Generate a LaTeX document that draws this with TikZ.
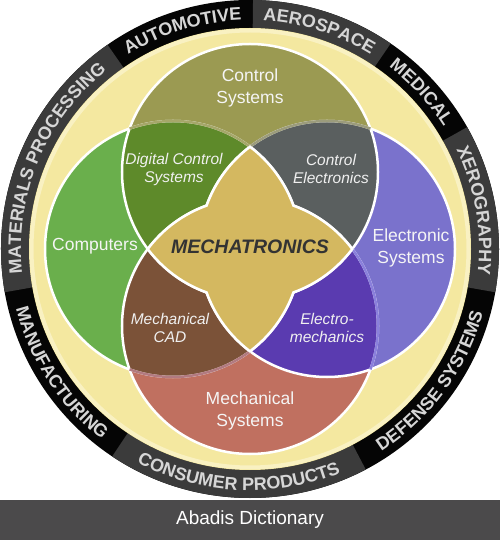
\documentclass[tikz,border=0pt]{standalone}
\usepackage{fontspec}
\setmainfont{Liberation Sans}
\usetikzlibrary{decorations.text}
\definecolor{ringblack}{HTML}{050505}
\definecolor{ringgray}{HTML}{3B3B3B}
\definecolor{ringtext}{HTML}{D6D6D6}
\definecolor{bgyellow}{HTML}{F4E8A0}
\definecolor{bgrim}{HTML}{F9F1C2}
\definecolor{ctrlsys}{HTML}{9B9A52}
\definecolor{computers}{HTML}{6AAF4C}
\definecolor{elecsys}{HTML}{7A72CC}
\definecolor{mechsys}{HTML}{C07060}
\definecolor{digctrl}{HTML}{5E8A2A}
\definecolor{ctrlelec}{HTML}{5A5F5F}
\definecolor{mechcad}{HTML}{7B5238}
\definecolor{electromech}{HTML}{5A3BB0}
\definecolor{mechatr}{HTML}{D4B860}
\definecolor{barcol}{HTML}{4B4A4B}
\definecolor{lineTL}{HTML}{A6A76A}
\definecolor{lineTR}{HTML}{9C9C7C}
\definecolor{lineBL}{HTML}{B27A80}
\definecolor{lineBR}{HTML}{8A80DC}
\newcommand\ringfmt{\bfseries\fontsize{18}{18}\selectfont}
\begin{document}
\begin{tikzpicture}[x=1pt,y=1pt,
  circlabel/.style={text=white!96!black, font=\fontsize{17.5}{22}\selectfont, align=center, inner sep=0pt},
  petallabel/.style={text=white!94!black, font=\itshape\fontsize{15.5}{18}\selectfont, align=center, inner sep=0pt},
  ringlabel/.style={decorate, decoration={text along path, text align=center, text color=ringtext}},
  border/.style={draw=white, line width=2.5pt},
  seam/.style={line width=2.5pt}]
\useasboundingbox (-250,-291) rectangle (250,249);
\fill[white] (-250,-291) rectangle (250,249);
% outer ring
\fill[ringblack] (0,0) circle[radius=249];
\fill[ringgray] (0,0) -- (55.6:249) arc[start angle=55.6, end angle=89.3, radius=249] -- cycle;
\fill[ringgray] (0,0) -- (-10:249) arc[start angle=-10, end angle=29.3, radius=249] -- cycle;
\fill[ringgray] (0,0) -- (236.4:249) arc[start angle=236.4, end angle=297.7, radius=249] -- cycle;
\fill[ringgray] (0,0) -- (124.9:249) arc[start angle=124.9, end angle=190, radius=249] -- cycle;
\fill[bgyellow] (0,0) circle[radius=221];
\draw[bgrim, line width=4pt] (0,0) circle[radius=218.5];
% ring labels (top: clockwise, bottom: counter-clockwise)
\begin{scope}
\ringfmt
\path[ringlabel, decoration={text={MATERIALS PROCESSING}}] (190:229) arc[start angle=190, end angle=124.9, radius=229];
\path[ringlabel, decoration={text={AUTOMOTIVE}}] (124.9:229) arc[start angle=124.9, end angle=89.3, radius=229];
\path[ringlabel, decoration={text={AEROSPACE}}] (89.3:229) arc[start angle=89.3, end angle=55.6, radius=229];
\path[ringlabel, decoration={text={MEDICAL}}] (55.6:229) arc[start angle=55.6, end angle=29.3, radius=229];
\path[ringlabel, decoration={text={XEROGRAPHY}}] (29.3:229) arc[start angle=29.3, end angle=-10, radius=229];
\path[ringlabel, decoration={text={DEFENSE SYSTEMS}}] (-62.3:241.5) arc[start angle=-62.3, end angle=-10, radius=241.5];
\path[ringlabel, decoration={text={CONSUMER PRODUCTS}}] (236.4:241.5) arc[start angle=236.4, end angle=297.7, radius=241.5];
\path[ringlabel, decoration={text={MANUFACTURING}}] (190:241.5) arc[start angle=190, end angle=236.4, radius=241.5];
\end{scope}
% circles
\fill[computers] (-77,0) circle[radius=128];
\fill[elecsys] (77,0) circle[radius=128];
\fill[ctrlsys] (0,77) circle[radius=128];
\fill[mechsys] (0,-77) circle[radius=128];
% pairwise overlaps
\begin{scope}\clip (0,77) circle[radius=128]; \fill[digctrl] (-77,0) circle[radius=128]; \end{scope}
\begin{scope}\clip (0,77) circle[radius=128]; \fill[ctrlelec] (77,0) circle[radius=128]; \end{scope}
\begin{scope}\clip (0,-77) circle[radius=128]; \fill[mechcad] (-77,0) circle[radius=128]; \end{scope}
\begin{scope}\clip (0,-77) circle[radius=128]; \fill[electromech] (77,0) circle[radius=128]; \end{scope}
% borders
\draw[border] (-77,0) circle[radius=128];
\draw[border] (77,0) circle[radius=128];
\draw[border] (0,77) circle[radius=128];
\draw[border] (0,-77) circle[radius=128];
% soft seams
\draw[seam, lineTL] ([shift={(-77,0)}]109.82:128) arc[start angle=109.82, end angle=53.02, radius=128];
\draw[seam, lineTR] ([shift={(77,0)}]70.18:128) arc[start angle=70.18, end angle=126.98, radius=128];
\draw[seam, lineBL] ([shift={(-77,0)}]-109.82:128) arc[start angle=-109.82, end angle=-53.02, radius=128];
\draw[seam, lineBR] ([shift={(0,-77)}]-19.82:128) arc[start angle=-19.82, end angle=36.98, radius=128];
% mechatronics core
\path[border, fill=mechatr] (0,102.25)
  arc[start angle=53.02, end angle=19.82, radius=128]
  arc[start angle=70.18, end angle=36.98, radius=128]
  arc[start angle=-36.98, end angle=-70.18, radius=128]
  arc[start angle=-19.82, end angle=-53.02, radius=128]
  arc[start angle=233.02, end angle=199.82, radius=128]
  arc[start angle=250.18, end angle=216.98, radius=128]
  arc[start angle=143.02, end angle=109.82, radius=128]
  arc[start angle=160.18, end angle=126.98, radius=128] -- cycle;
% labels
\node[circlabel] (cs) at (0,161) {Control\\Systems};
\node[circlabel] (comp) at (-155,3) {Computers};
\node[circlabel] (es) at (161,1) {Electronic\\Systems};
\node[circlabel] (ms) at (0,-162) {Mechanical\\Systems};
\node[petallabel] (dcs) at (-76,80) {Digital Control\\Systems};
\node[petallabel] (ce) at (81,80) {Control\\Electronics};
\node[petallabel] (cad) at (-80,-79) {Mechanical\\CAD};
\node[petallabel] (em) at (77,-79) {Electro-\\mechanics};
\node[text=black!80, font=\bfseries\itshape\fontsize{19.5}{22}\selectfont, inner sep=0pt] (mech) at (0,2) {MECHATRONICS};
% bottom bar
\fill[barcol] (-250,-251) rectangle (250,-291);
\node[text=white, font=\fontsize{19}{22}\selectfont, inner sep=0pt] (brand) at (0,-271) {Abadis Dictionary};
\end{tikzpicture}
\end{document}
